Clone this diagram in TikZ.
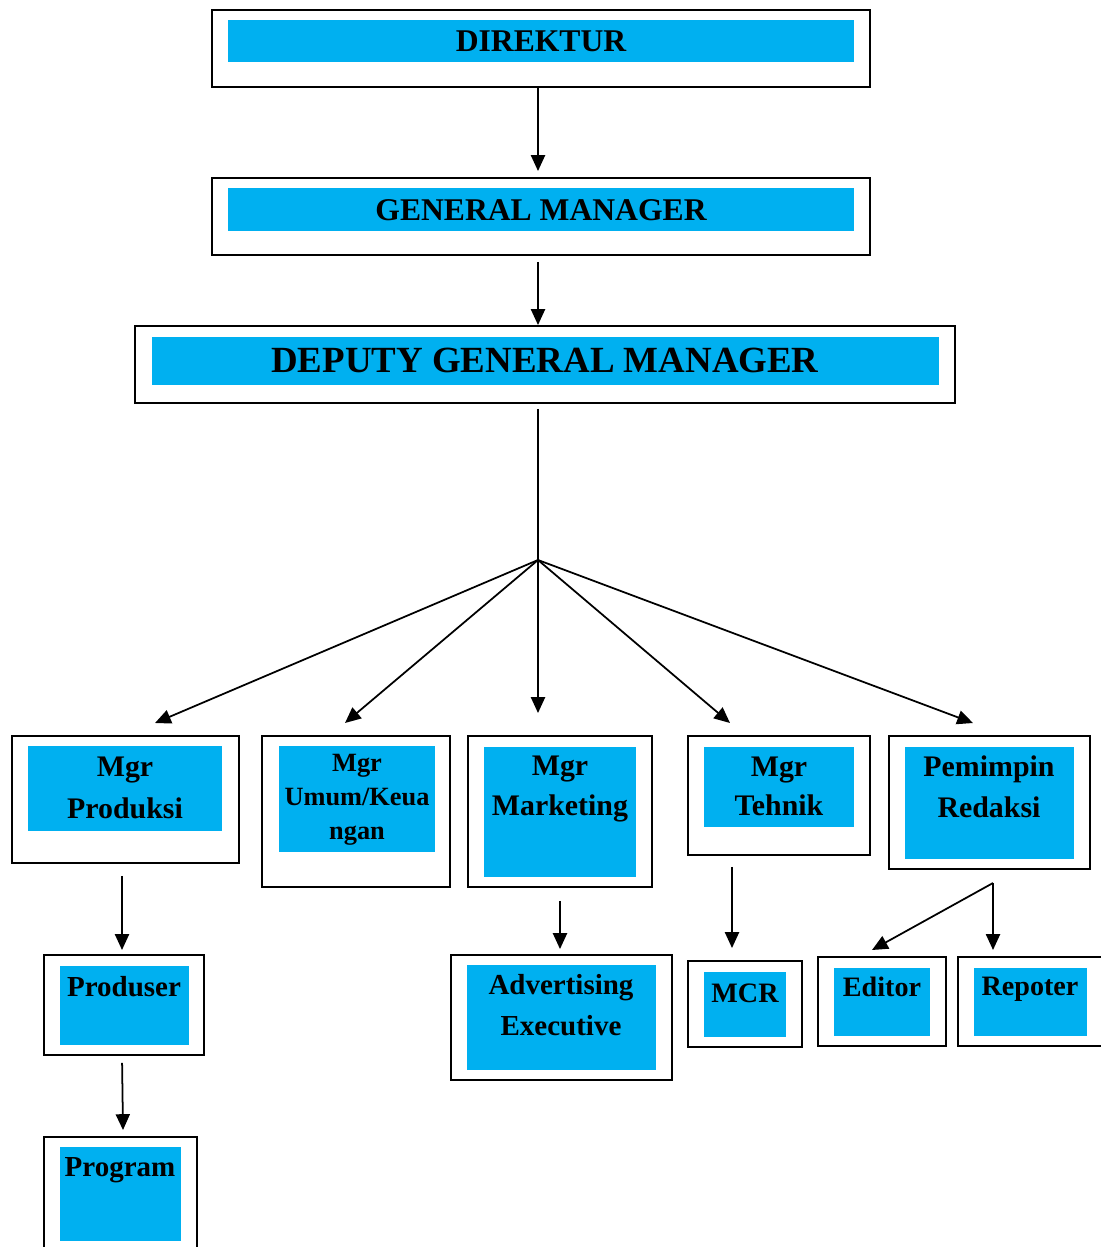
\documentclass[tikz,border=0pt]{standalone}
\usepackage{fontspec}
\setmainfont{Liberation Serif}
\usetikzlibrary{arrows.meta, fit}
\definecolor{cblue}{HTML}{00B0F0}
\tikzset{
  frame/.style={draw, inner sep=0pt, line width=1.1pt},
  fillbox/.style={fill=cblue, inner sep=0pt},
  lbl/.style n args={2}{font=\bfseries\fontsize{#1}{#2}\selectfont, align=center, inner sep=0pt},
  arrow/.style={-{Triangle[length=9pt, width=8pt]}, line width=1pt},
  line/.style={line width=1pt},
}

\begin{document}
\begin{tikzpicture}[x=0.02cm, y=-0.02cm]
  \useasboundingbox (0,0) rectangle (1101,1247);
  % top of the chart
  \node[frame, fit={(212,10) (870,87)}] (dir) {};
  \node[fillbox, fit={(228,20) (854,62)}] (dirb) {};
  \node[lbl={18}{24}] (dirt) at (541,41) {DIREKTUR};
  \node[frame, fit={(212,178) (870,255)}] (gm) {};
  \node[fillbox, fit={(228,188) (854,231)}] (gmb) {};
  \node[lbl={18}{24}] (gmt) at (541,210) {GENERAL MANAGER};
  \node[frame, fit={(135,326) (955,403)}] (dgm) {};
  \node[fillbox, fit={(152,337) (939,385)}] (dgmb) {};
  \node[lbl={21}{28}] (dgmt) at (545,360) {DEPUTY GENERAL MANAGER};
  % managers
  \node[frame, fit={(12,736) (239,863)}] (prod) {};
  \node[fillbox, fit={(28,746) (222,831)}] (prodb) {};
  \node[lbl={17}{23.5}] (prodt) at (125,788) {Mgr\\Produksi};
  \node[frame, fit={(262,736) (450,887)}] (umum) {};
  \node[fillbox, fit={(279,746) (435,852)}] (umumb) {};
  \node[lbl={15}{19.3}] (umumt) at (357,800) {Mgr\\Umum/Keua\\ngan};
  \node[frame, fit={(468,736) (652,887)}] (mkt) {};
  \node[fillbox, fit={(484,747) (636,877)}] (mktb) {};
  \node[lbl={17}{22.7}] (mktt) at (560,789) {Mgr\\Marketing};
  \node[frame, fit={(688,736) (870,855)}] (tek) {};
  \node[fillbox, fit={(704,747) (854,827)}] (tekb) {};
  \node[lbl={17}{22.2}] (tekt) at (779,786) {Mgr\\Tehnik};
  \node[frame, fit={(889,736) (1090,869)}] (red) {};
  \node[fillbox, fit={(905,747) (1074,859)}] (redb) {};
  \node[lbl={17}{23.5}] (redt) at (989,787) {Pemimpin\\Redaksi};
  % staff
  \node[frame, fit={(44,955) (204,1055)}] (prd) {};
  \node[fillbox, fit={(60,966) (189,1045)}] (prdb) {};
  \node[lbl={16.5}{23}] (prdt) at (124,987) {Produser};
  \node[frame, fit={(44,1137) (197,1260)}] (prg) {};
  \node[fillbox, fit={(60,1147) (181,1241)}] (prgb) {};
  \node[lbl={16.5}{23}] (prgt) at (120,1170) {Program};
  \node[frame, fit={(451,955) (672,1080)}] (adv) {};
  \node[fillbox, fit={(467,965) (656,1070)}] (advb) {};
  \node[lbl={16.5}{23.2}] (advt) at (561,1005) {Advertising\\Executive};
  \node[frame, fit={(688,961) (802,1047)}] (mcr) {};
  \node[fillbox, fit={(704,972) (786,1037)}] (mcrb) {};
  \node[lbl={16}{22}] (mcrt) at (745,993) {MCR};
  \node[frame, fit={(818,957) (946,1046)}] (edt) {};
  \node[fillbox, fit={(834,968) (930,1036)}] (edtb) {};
  \node[lbl={16}{22}] (edtt) at (882,987) {Editor};
  \node[frame, fit={(958,957) (1115,1046)}] (rep) {};
  \node[fillbox, fit={(974,968) (1087,1036)}] (repb) {};
  \node[lbl={16}{22}] (rept) at (1030,989) {Repoter};
  % connectors
  \coordinate (hub) at (538,560);
  \coordinate (inprod) at (155,723);
  \coordinate (inumum) at (345,723);
  \coordinate (inmkt) at (538,713);
  \coordinate (intek) at (730,723);
  \coordinate (inred) at (973,723);
  \coordinate (inprd) at (122,950);
  \coordinate (inprg) at (123,1130);
  \coordinate (inmcr) at (732,948);
  \coordinate (split) at (993,883);
  \coordinate (inedt) at (872,950);
  \coordinate (inrep) at (993,950);
  \draw[arrow, shorten >=0.12cm] (dir.south -| hub) -- (gm.north -| hub);
  \draw[arrow, shorten <=0.12cm] (gm.south -| hub) -- (dgm.north -| hub);
  \draw[line, shorten <=0.1cm] (dgm.south -| hub) -- (hub);
  \foreach \c in {inprod, inumum, inmkt, intek, inred}
    \draw[arrow] (hub) -- (\c);
  \draw[arrow, shorten <=0.24cm] (prod.south -| inprd) -- (inprd);
  \draw[arrow, shorten <=0.14cm] (prd.south -| inprd) -- (inprg);
  \draw[arrow, shorten <=0.26cm, shorten >=0.1cm] (mkt.south) -- (mkt.south |- adv.north);
  \draw[arrow, shorten <=0.22cm] (tek.south -| inmcr) -- (inmcr);
  \draw[arrow] (split) -- (inedt);
  \draw[arrow] (split) -- (inrep);
\end{tikzpicture}
\end{document}
